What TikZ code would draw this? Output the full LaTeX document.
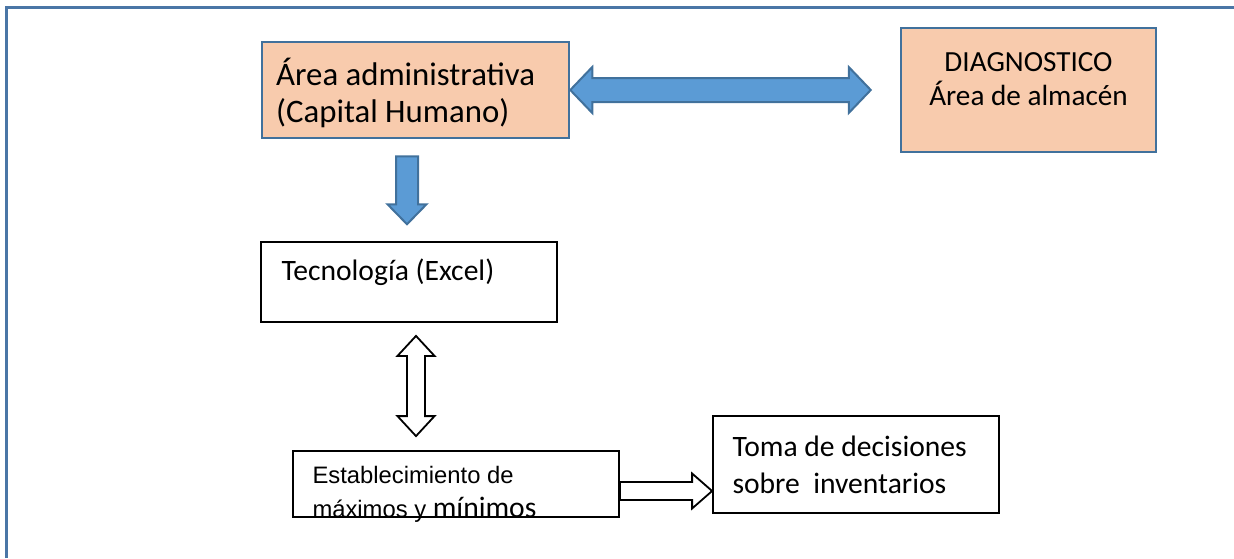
\documentclass[tikz,border=0pt]{standalone}
\usepackage{fontspec}
\setmainfont{Carlito}
\newfontfamily\arialfont{Liberation Sans}
\usepackage{xcolor}
\usetikzlibrary{calc}

\definecolor{boxOrange}{HTML}{F8CBAD}
\definecolor{boxBlue}{HTML}{41719C}
\definecolor{arrowBlue}{HTML}{5B9BD5}
\definecolor{frameBlue}{HTML}{4A76A6}

\begin{document}
\begin{tikzpicture}[
    x=0.5pt,
    y=-0.5pt,
    font=\fontsize{14.8}{18.5}\selectfont,
    area/.style={
        draw=boxBlue,
        fill=boxOrange,
        line width=1.25pt,
        inner sep=0pt
    },
    plain/.style={
        draw=black,
        fill=white,
        line width=0.9pt,
        inner sep=0pt
    },
    boxText/.style={
        inner sep=0pt,
        align=left,
        anchor=west
    },
    blockArrow/.style={
        draw=boxBlue,
        fill=arrowBlue,
        line width=1pt,
        line join=miter
    },
    hollowArrow/.style={
        draw=black,
        fill=white,
        line width=0.9pt,
        line join=miter
    },
    pageFrame/.style={
        draw=frameBlue,
        line width=1.5pt
    }
]

\useasboundingbox (0,0) rectangle (1234,558);

%------------------------------------------------------------------------------
% Page frame
%------------------------------------------------------------------------------

\draw[pageFrame] (6.5,558) -- (6.5,7.5) -- (1234,7.5);

%------------------------------------------------------------------------------
% Boxes
%------------------------------------------------------------------------------

\node[area, minimum width=153.5pt, minimum height=48pt] (admin) at (415.5,90) {};

\node[area, minimum width=127.5pt, minimum height=62pt] (diag) at (1028.5,90) {};

\node[plain, minimum width=148pt, minimum height=40pt] (tech) at (409,282) {};

\node[plain, minimum width=163pt, minimum height=33pt] (estab) at (456,484) {};

\node[plain, minimum width=143pt, minimum height=48.5pt] (toma) at (856,464.5) {};

%------------------------------------------------------------------------------
% Box texts
%------------------------------------------------------------------------------

\node[boxText, font=\fontsize{16.4}{18.5}\selectfont] (adminText)
    at ($(admin.west)+(15,2.5)$)
{
    Área administrativa\\
    (Capital Humano)
};

\node[boxText, anchor=center, align=center, font=\fontsize{14.6}{17}\selectfont] (diagText)
    at ($(diag.center)+(0,-11)$)
{
    DIAGNOSTICO\\
    Área de almacén
};

\node[boxText] (techText) at ($(tech.west)+(21,-10)$) {Tecnología (Excel)};

\node[boxText, font=\arialfont\fontsize{11.9}{17}\selectfont] (estabText)
    at ($(estab.west)+(20,10)$)
{
    Establecimiento de\\
    máximos y {\rmfamily\fontsize{14.8}{17}\selectfont mínimos}
};

\node[boxText] (tomaText) at ($(toma.west)+(20,0)$)
{
    Toma de decisiones\\
    sobre\ \ inventarios
};

%------------------------------------------------------------------------------
% Block arrows
%------------------------------------------------------------------------------

\coordinate (linkEnd) at ($(diag.west)+(-29,0)$);
\coordinate (dropTop) at ($(admin.south)+(-8.5,17)$);
\coordinate (syncTop) at ($(tech.south)+(7,13)$);
\coordinate (syncBottom) at ($(estab.north)+(-40,-14)$);
\coordinate (flowStart) at ($(estab.east)+(0,7)$);
\coordinate (flowTip) at ($(toma.west)+(0,26.5)$);

% admin <-> diag
\draw[blockArrow]
    (admin.east) -- ++(22,-23) -- ++(0,11)
    -- ($(linkEnd)+(-22,-12)$) -- ++(0,-11) -- (linkEnd)
    -- ++(-22,23) -- ++(0,-11)
    -- ($(admin.east)+(22,12)$) -- ++(0,11) -- cycle;

% admin -> tech
\draw[blockArrow]
    ($(dropTop)+(-11,0)$) -- ++(22,0) -- ++(0,48) -- ++(8.5,0)
    -- ++(-19.5,20) -- ++(-19.5,-20) -- ++(8.5,0) -- cycle;

% tech <-> estab
\draw[hollowArrow]
    (syncTop) -- ++(18.5,20) -- ++(-9.5,0)
    -- ($(syncBottom)+(9,-20)$) -- ++(9.5,0) -- (syncBottom)
    -- ++(-18.5,-20) -- ++(9.5,0)
    -- ($(syncTop)+(-9,20)$) -- ++(-9.5,0) -- cycle;

% estab -> toma
\draw[hollowArrow]
    ($(flowStart)+(0,-9)$) -- ($(flowTip)+(-20,-9)$) -- ++(0,-8.5)
    -- (flowTip) -- ++(-20,17.5) -- ++(0,-8.5)
    -- ($(flowStart)+(0,9)$) -- cycle;

\end{tikzpicture}
\end{document}
